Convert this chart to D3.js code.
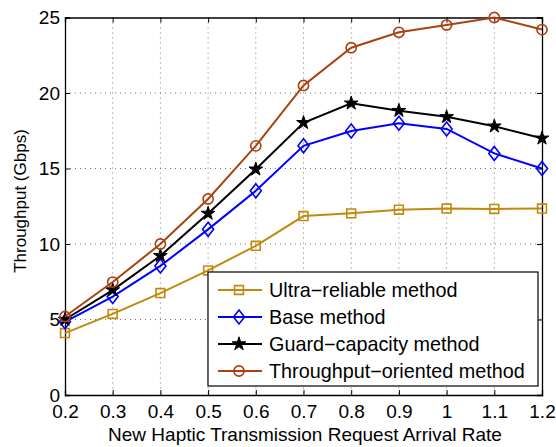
<!DOCTYPE html>
<html>
<head>
<meta charset="utf-8">
<script src="https://cdn.jsdelivr.net/npm/d3@7"></script>
<style>
  body { margin: 0; background: #fff; }
  text { font-family: "Liberation Sans", Arial, sans-serif; fill: #000; }
</style>
</head>
<body>
<div id="chart"></div>
<script>
const arrivalRates = [0.2, 0.3, 0.4, 0.5, 0.6, 0.7, 0.8, 0.9, 1.0, 1.1, 1.2];
const ultraReliable = [4.1, 5.37, 6.75, 8.25, 9.88, 11.85, 12.03, 12.27, 12.35, 12.32, 12.35];
const baseMethod = [4.85, 6.52, 8.55, 10.97, 13.52, 16.5, 17.48, 18.0, 17.62, 16.0, 15.0];
const guardCapacity = [5.0, 6.95, 9.22, 12.02, 14.95, 18.03, 19.32, 18.83, 18.42, 17.8, 17.0];
const throughputOriented = [5.2, 7.48, 10.0, 12.98, 16.5, 20.5, 23.0, 24.02, 24.5, 25.0, 24.2];
const xTicks = [0.2, 0.3, 0.4, 0.5, 0.6, 0.7, 0.8, 0.9, 1, 1.1, 1.2];
const yTicks = [0, 5, 10, 15, 20, 25];

const series = [
  { name: "Ultra\u2212reliable method", values: ultraReliable, color: "#C08A0E", marker: "square" },
  { name: "Base method", values: baseMethod, color: "#0000FF", marker: "diamond" },
  { name: "Guard\u2212capacity method", values: guardCapacity, color: "#000000", marker: "star" },
  { name: "Throughput\u2212oriented method", values: throughputOriented, color: "#AA410F", marker: "circle" }
];

const w = 556, h = 447;
const margin = { top: 17.5, right: 14, bottom: 52, left: 65 };
const iw = w - margin.left - margin.right;
const ih = h - margin.top - margin.bottom;

const svg = d3.select("#chart").append("svg")
  .attr("width", w)
  .attr("height", h);

const g = svg.append("g").attr("transform", `translate(${margin.left},${margin.top})`);

const x = d3.scaleLinear().domain([0.2, 1.2]).range([0, iw]);
const y = d3.scaleLinear().domain([0, 25]).range([ih, 0]);

// grid
g.append("g").selectAll("line")
  .data(xTicks.slice(1, -1))
  .enter().append("line")
  .attr("x1", d => x(d)).attr("x2", d => x(d))
  .attr("y1", 0).attr("y2", ih)
  .attr("stroke", "#777").attr("stroke-width", 1)
  .attr("stroke-dasharray", "1,4");

g.append("g").selectAll("line")
  .data(yTicks.slice(1, -1))
  .enter().append("line")
  .attr("y1", d => y(d)).attr("y2", d => y(d))
  .attr("x1", 0).attr("x2", iw)
  .attr("stroke", "#777").attr("stroke-width", 1)
  .attr("stroke-dasharray", "1,4");

// axes, ticks inside like matlab
const xAxis = g.append("g").attr("transform", `translate(0,${ih})`)
  .call(d3.axisBottom(x).tickValues(xTicks).tickSize(-5).tickPadding(10).tickFormat(d3.format("")));
const xAxisTop = g.append("g")
  .call(d3.axisTop(x).tickValues(xTicks).tickSize(-5).tickFormat(""));
const yAxis = g.append("g")
  .call(d3.axisLeft(y).tickValues(yTicks).tickSize(-5).tickPadding(5));
const yAxisRight = g.append("g").attr("transform", `translate(${iw},0)`)
  .call(d3.axisRight(y).tickValues(yTicks).tickSize(-5).tickFormat(""));

[xAxis, xAxisTop, yAxis, yAxisRight].forEach(a => {
  a.select(".domain").attr("stroke", "#000").attr("stroke-width", 1.3);
  a.selectAll(".tick line").attr("stroke", "#000");
  a.selectAll("text").style("font-size", "19px").attr("fill", "#000");
});

// lines and markers
const line = d3.line()
  .x((d, i) => x(arrivalRates[i]))
  .y(d => y(d));

const symbolFor = {
  square: d3.symbol().type(d3.symbolSquare).size(78),
  star: d3.symbol().type(d3.symbolStar).size(58),
  circle: d3.symbol().type(d3.symbolCircle).size(82)
};

function drawMarker(sel, s) {
  let p;
  if (s.marker === "diamond") {
    p = sel.append("path").attr("d", "M0,-7L5.5,0L0,7L-5.5,0Z");
  } else {
    p = sel.append("path").attr("d", symbolFor[s.marker]());
  }
  if (s.marker === "star") {
    p.attr("fill", s.color).attr("stroke", s.color).attr("stroke-width", 1);
  } else {
    p.attr("fill", "none").attr("stroke", s.color).attr("stroke-width", 1.6);
  }
}

series.forEach(s => {
  g.append("path")
    .datum(s.values)
    .attr("d", line)
    .attr("fill", "none")
    .attr("stroke", s.color)
    .attr("stroke-width", 2);

  g.append("g").selectAll("g")
    .data(s.values)
    .enter().append("g")
    .attr("transform", (d, i) => `translate(${x(arrivalRates[i])},${y(d)})`)
    .each(function () { drawMarker(d3.select(this), s); });
});

// axis labels
svg.append("text")
  .attr("x", 305)
  .attr("y", 441)
  .attr("text-anchor", "middle")
  .style("font-size", "19px")
  .text("New Haptic Transmission Request Arrival Rate");

svg.append("text")
  .attr("transform", `translate(26,201) rotate(-90)`)
  .attr("text-anchor", "middle")
  .style("font-size", "17px")
  .text("Throughput (Gbps)");

// legend
const legend = svg.append("g").attr("transform", "translate(208,272)");
legend.append("rect")
  .attr("width", 330).attr("height", 114)
  .attr("fill", "#fff").attr("stroke", "#000").attr("stroke-width", 1.2);

const item = legend.selectAll("g.item")
  .data(series)
  .enter().append("g")
  .attr("class", "item")
  .attr("transform", (d, i) => `translate(0,${18 + i * 27})`);

item.append("line")
  .attr("x1", 10).attr("x2", 54)
  .attr("stroke", d => d.color).attr("stroke-width", 2);
item.append("g")
  .attr("transform", "translate(31,0)")
  .each(function (d) { drawMarker(d3.select(this), d); });
item.append("text")
  .attr("x", 61).attr("y", 7)
  .style("font-size", "19.8px")
  .text(d => d.name);
</script>
</body>
</html>
